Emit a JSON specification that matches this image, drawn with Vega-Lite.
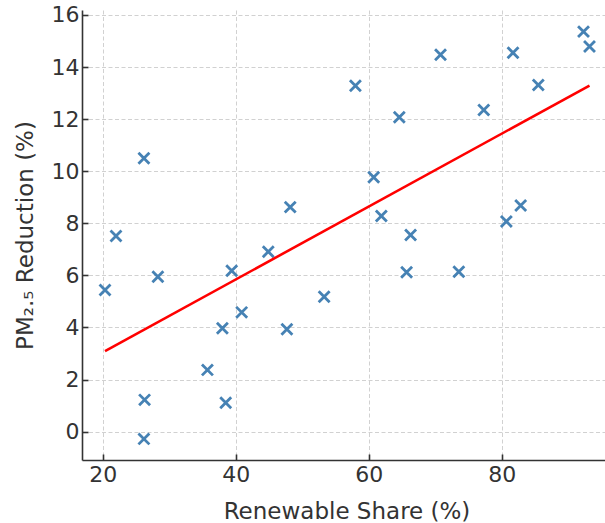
{
  "$schema": "https://vega.github.io/schema/vega-lite/v6.json",
  "width": 523,
  "height": 450,
  "autosize": {"type": "none"},
  "padding": {"left": 82, "top": 10, "right": 0, "bottom": 63},
  "background": "white",
  "config": {
    "view": {"stroke": null},
    "font": "DejaVu Sans",
    "axis": {
      "labelFont": "DejaVu Sans",
      "titleFont": "DejaVu Sans",
      "labelFontSize": 22,
      "titleFontSize": 23,
      "titleFontWeight": "normal",
      "labelColor": "#333333",
      "titleColor": "#333333",
      "domainColor": "#333333",
      "domainWidth": 1.6,
      "tickColor": "#333333",
      "tickWidth": 1.6,
      "tickSize": -6,
      "gridColor": "#cccccc",
      "gridDash": [4, 2.5],
      "gridWidth": 0.9
    }
  },
  "datasets": {
    "points": [
      {"share": 20.35, "reduction": 5.44},
      {"share": 22.0, "reduction": 7.51},
      {"share": 26.2, "reduction": -0.28},
      {"share": 26.3, "reduction": 1.22},
      {"share": 26.2, "reduction": 10.5},
      {"share": 28.3, "reduction": 5.95},
      {"share": 35.75, "reduction": 2.37},
      {"share": 38.0, "reduction": 3.97},
      {"share": 38.5, "reduction": 1.11},
      {"share": 39.4, "reduction": 6.18},
      {"share": 40.9, "reduction": 4.58},
      {"share": 47.7, "reduction": 3.93},
      {"share": 44.9, "reduction": 6.91},
      {"share": 48.2, "reduction": 8.62},
      {"share": 53.3, "reduction": 5.18},
      {"share": 58.0, "reduction": 13.28},
      {"share": 60.75, "reduction": 9.77},
      {"share": 61.9, "reduction": 8.28},
      {"share": 64.6, "reduction": 12.07},
      {"share": 65.7, "reduction": 6.12},
      {"share": 66.3, "reduction": 7.55},
      {"share": 70.8, "reduction": 14.47},
      {"share": 73.55, "reduction": 6.14},
      {"share": 77.3, "reduction": 12.35},
      {"share": 80.7, "reduction": 8.07},
      {"share": 81.7, "reduction": 14.55},
      {"share": 82.85, "reduction": 8.68},
      {"share": 85.5, "reduction": 13.31},
      {"share": 92.3, "reduction": 15.36},
      {"share": 93.2, "reduction": 14.79}
    ],
    "fit": [
      {"share": 20.35, "reduction": 3.09},
      {"share": 93.2, "reduction": 13.29}
    ]
  },
  "layer": [
    {
      "data": {"name": "points"},
      "mark": {
        "type": "point",
        "shape": "M-1,-1L1,1M-1,1L1,-1",
        "filled": false,
        "size": 120,
        "strokeWidth": 2.8,
        "color": "#4682b4",
        "opacity": 1
      },
      "encoding": {
        "x": {
          "field": "share",
          "type": "quantitative",
          "scale": {"domain": [16.89, 95.53], "nice": false, "zero": false},
          "axis": {
            "values": [20, 40, 60, 80],
            "title": "Renewable Share (%)",
            "labelPadding": 10,
            "titleBaseline": "alphabetic",
            "titleX": 264.5,
            "titleY": 58,
            "titleAnchor": "middle"
          }
        },
        "y": {
          "field": "reduction",
          "type": "quantitative",
          "scale": {"domain": [-1.09, 16.19], "nice": false, "zero": false},
          "axis": {
            "values": [0, 2, 4, 6, 8, 10, 12, 14, 16],
            "title": "PM₂.₅ Reduction (%)",
            "labelPadding": 9,
            "titleBaseline": "alphabetic",
            "titleX": -50
          }
        }
      }
    },
    {
      "data": {"name": "fit"},
      "mark": {"type": "line", "color": "#ff0000", "strokeWidth": 2.6},
      "encoding": {
        "x": {"field": "share", "type": "quantitative"},
        "y": {"field": "reduction", "type": "quantitative"}
      }
    }
  ]
}
